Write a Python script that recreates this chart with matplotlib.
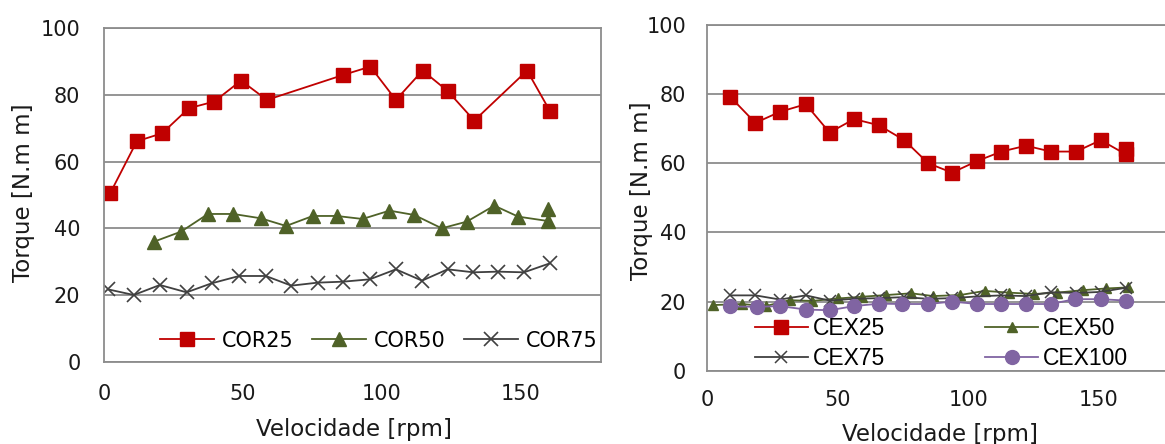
import numpy as np
import matplotlib
matplotlib.use("Agg")
import matplotlib.pyplot as plt

# ---- left panel data (COR series) ----
cor25_x = [2.2, 11.8, 20.9, 30.5, 39.6, 49.3, 58.6, 86.1, 95.8, 105.0, 114.6, 123.6, 133.2, 152.2, 160.4]
cor25_y = [50.5, 66.1, 68.5, 76.0, 78.0, 84.3, 78.5, 86.0, 88.5, 78.5, 87.3, 81.2, 72.3, 87.3, 75.2]

cor50_x = [18.0, 27.7, 37.4, 46.5, 56.4, 65.5, 75.1, 83.7, 93.0, 102.7, 111.6, 121.5, 130.5, 140.4, 149.0, 159.6, 159.6]
cor50_y = [36.0, 39.0, 44.3, 44.3, 43.0, 40.7, 43.7, 43.7, 42.8, 45.3, 44.0, 40.0, 42.0, 46.8, 43.5, 42.2, 45.7]

cor75_x = [1.4, 10.7, 20.1, 29.7, 38.7, 48.6, 58.2, 67.4, 76.8, 86.1, 95.6, 105.0, 114.4, 123.6, 132.9, 141.7, 151.1, 160.4]
cor75_y = [21.7, 20.0, 23.0, 20.8, 23.5, 25.7, 25.7, 22.8, 23.7, 24.0, 24.7, 27.7, 24.3, 27.7, 26.8, 27.0, 26.8, 29.5]

# ---- right panel data (CEX series) ----
cex25_x = [8.8, 18.5, 27.9, 37.8, 46.9, 56.3, 65.8, 75.5, 84.7, 93.8, 103.5, 112.7, 122.1, 131.6, 141.3, 150.7, 160.3, 160.3]
cex25_y = [79.3, 71.7, 74.9, 77.1, 68.9, 72.8, 71.0, 66.7, 60.0, 57.3, 60.7, 63.4, 65.1, 63.4, 63.4, 66.7, 62.6, 64.0]

cex50_x = [2.3, 13.4, 22.4, 31.6, 40.3, 50.0, 59.3, 68.6, 78.2, 86.5, 96.9, 106.3, 115.5, 125.2, 134.1, 143.8, 152.8, 161.0]
cex50_y = [19.0, 19.3, 18.7, 20.4, 20.2, 20.9, 21.4, 21.9, 22.4, 21.6, 21.9, 23.1, 22.6, 22.2, 22.6, 23.3, 23.8, 24.1]

cex75_x = [8.8, 18.5, 27.9, 37.8, 46.9, 56.3, 65.8, 75.5, 84.7, 93.8, 103.5, 112.7, 122.1, 131.6, 141.3, 150.7, 160.3]
cex75_y = [21.8, 21.8, 20.6, 21.8, 20.3, 20.8, 21.0, 21.3, 20.8, 21.0, 21.5, 21.8, 21.6, 22.7, 22.5, 22.8, 24.0]

cex100_x = [8.8, 19.2, 27.9, 37.8, 46.9, 56.3, 65.8, 74.8, 84.7, 93.8, 103.5, 112.7, 122.1, 131.6, 140.7, 150.7, 160.3]
cex100_y = [18.6, 18.5, 18.7, 17.7, 17.5, 18.7, 19.4, 19.3, 19.3, 20.0, 19.3, 19.3, 19.3, 19.3, 20.7, 20.7, 20.3]

yticks = [0, 20, 40, 60, 80, 100]
xticks = [0, 50, 100, 150]

red = '#C00000'
green = '#4F6228'
gray = '#404040'
purple = '#8064A2'
grid_c = '#8C8C8C'

plt.rcParams['font.family'] = ['DejaVu Sans']

fig = plt.figure(figsize=(11.65, 4.44), dpi=100)
ax1 = fig.add_axes([0.0893, 0.1854, 0.4266, 0.751])
ax2 = fig.add_axes([0.6069, 0.165, 0.3931, 0.7786])


def style_axes(ax, xmax, pad_x, pad_y):
    ax.set_xlim(0, xmax)
    ax.set_ylim(0, 100)
    ax.set_xticks(xticks)
    ax.set_yticks(yticks)
    ax.yaxis.grid(True, color=grid_c, linewidth=1.3)
    ax.set_axisbelow(True)
    for s in ax.spines.values():
        s.set_color(grid_c)
        s.set_linewidth(1.3)
    ax.tick_params(length=0, labelsize=15)
    ax.tick_params(axis='x', pad=pad_x)
    ax.tick_params(axis='y', pad=pad_y)
    for lab in ax.get_xticklabels() + ax.get_yticklabels():
        lab.set_color('#1a1a1a')


# left panel
ax1.plot(cor25_x, cor25_y, color=red, lw=1.3, marker='s', ms=10.5, label='COR25')
ax1.plot(cor50_x, cor50_y, color=green, lw=1.3, marker='^', ms=9.5, label='COR50')
ax1.plot(cor75_x, cor75_y, color=gray, lw=1.3, marker='x', ms=9.5, mew=1.2, label='COR75')
style_axes(ax1, 178.8, 16, 17)
ax1.set_xlabel('Velocidade [rpm]', fontsize=16.5, color='#1a1a1a')
ax1.set_ylabel('Torque [N.m m]', fontsize=16.5, color='#1a1a1a')
ax1.xaxis.set_label_coords(0.502, -0.168)
ax1.yaxis.set_label_coords(-0.139, 0.507)
ax1.legend(loc='center left', bbox_to_anchor=(0.113, 0.063), ncol=3, frameon=False,
           fontsize=15, handlelength=2.6, handletextpad=0.35, columnspacing=0.9,
           borderpad=0, borderaxespad=0)

# right panel
l25, = ax2.plot(cex25_x, cex25_y, color=red, lw=1.3, marker='s', ms=10.5, label='CEX25')
l50, = ax2.plot(cex50_x, cex50_y, color=green, lw=1.3, marker='^', ms=7, label='CEX50')
l75, = ax2.plot(cex75_x, cex75_y, color=gray, lw=1.3, marker='x', ms=8, mew=1.1, label='CEX75')
l100, = ax2.plot(cex100_x, cex100_y, color=purple, lw=1.3, marker='o', ms=10, label='CEX100')
style_axes(ax2, 175.3, 14, 15)
ax2.spines['right'].set_visible(False)
ax2.set_xlabel('Velocidade [rpm]', fontsize=16.5, color='#1a1a1a')
ax2.set_ylabel('Torque [N.m m]', fontsize=16.5, color='#1a1a1a')
ax2.xaxis.set_label_coords(0.508, -0.15)
ax2.yaxis.set_label_coords(-0.118, 0.52)
ax2.legend([l25, l75, l50, l100], ['CEX25', 'CEX75', 'CEX50', 'CEX100'],
           loc='center left', bbox_to_anchor=(0.105, 0.08), ncol=2, frameon=False,
           prop={'family': ['Liberation Sans', 'DejaVu Sans'], 'size': 16.5},
           handlelength=2.3, handletextpad=0.2, columnspacing=4.4, labelspacing=0.3,
           borderpad=0, borderaxespad=0)

fig.savefig('out.png', dpi=100)
